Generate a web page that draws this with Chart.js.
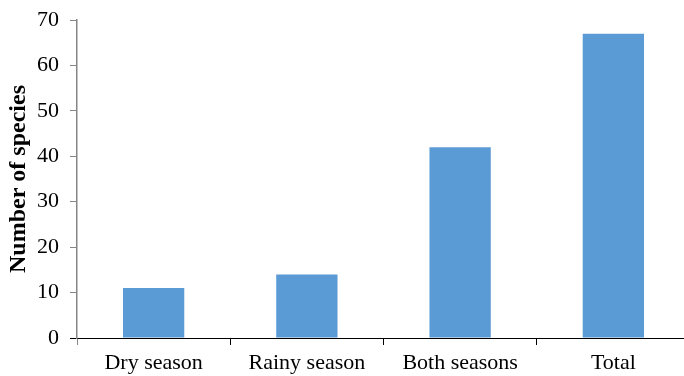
<!DOCTYPE html>
<html lang="en">
<head>
    <meta charset="UTF-8">
    <title>Number of species by season</title>
    <script src="https://cdn.jsdelivr.net/npm/chart.js@4.4.0/dist/chart.umd.min.js"></script>
    <style>
        html, body {margin: 0; padding: 0; overflow: hidden; background: #fff;}
        #wrap {width: 692px; height: 376px;}
    </style>
</head>
<body>
    <div id="wrap">
        <canvas id="chart" width="692" height="376"></canvas>
    </div>
    <script>
        const categories = ["Dry season", "Rainy season", "Both seasons", "Total"];
        const speciesCounts = [11, 14, 42, 67];
        const yTicks = [0, 10, 20, 30, 40, 50, 60, 70];

        const serif = "'Liberation Serif', 'Times New Roman', serif";

        new Chart(document.getElementById("chart"), {
            type: "bar",
            data: {
                labels: categories,
                datasets: [{
                    data: speciesCounts,
                    backgroundColor: "#5B9BD5",
                    borderWidth: 0,
                    barPercentage: 0.4,
                    categoryPercentage: 1.0
                }]
            },
            options: {
                responsive: false,
                animation: false,
                layout: {padding: {top: 20, right: 2, left: 0, bottom: 0}},
                plugins: {
                    legend: {display: false},
                    tooltip: {enabled: false}
                },
                scales: {
                    x: {
                        grid: {
                            offset: true,
                            drawOnChartArea: false,
                            drawTicks: true,
                            tickLength: 7,
                            color: (ctx) => ctx.index === 0 ? "#868686" : "#000"
                        },
                        border: {color: "#000", width: 1},
                        ticks: {
                            color: "#000",
                            padding: 5,
                            font: {family: serif, size: 22}
                        },
                        afterFit: (axis) => { axis.height = 38; }
                    },
                    y: {
                        min: 0,
                        max: 70,
                        afterBuildTicks: (axis) => {
                            axis.ticks = yTicks.map(v => ({value: v}));
                        },
                        grid: {
                            drawOnChartArea: false,
                            drawTicks: true,
                            tickLength: 7,
                            color: (ctx) => ctx.tick && ctx.tick.value === 0 ? "#000" : "#868686"
                        },
                        border: {color: "#868686", width: 1.5},
                        ticks: {
                            color: "#000",
                            padding: 11,
                            font: {family: serif, size: 22}
                        },
                        title: {
                            display: true,
                            text: "Number of species",
                            color: "#000",
                            padding: {top: 4, bottom: 0},
                            font: {family: serif, size: 24, weight: "bold"}
                        },
                        afterFit: (axis) => {
                            axis.width = 77;
                            axis.paddingTop = 0;
                            axis.paddingBottom = 0;
                        }
                    }
                }
            }
        });
    </script>
</body>
</html>
